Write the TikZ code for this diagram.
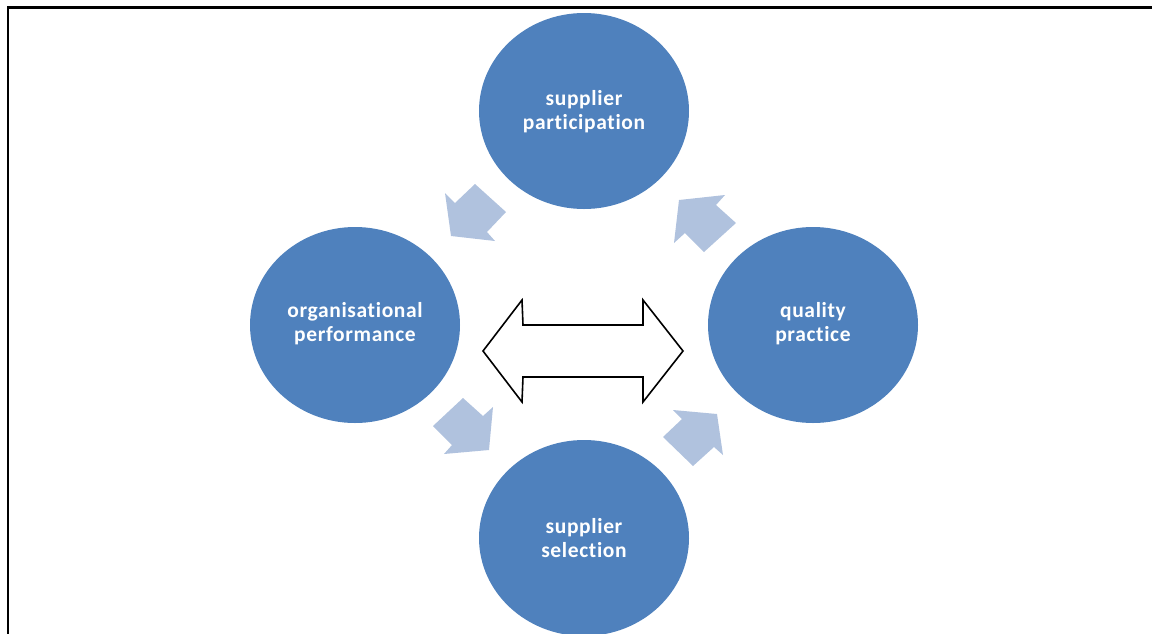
\documentclass[tikz,border=0pt]{standalone}
\usepackage{fontspec}
\setmainfont{Carlito}[Ligatures=NoCommon,LetterSpace=3]
\begin{document}
\begin{tikzpicture}[x=1pt,y=-1pt,
  bubble/.style={draw=none,fill=circblue},
  btext/.style={text=white,font=\bfseries\fontsize{21.5}{24}\selectfont,align=center,inner sep=0pt},
  lightarrow/.style={fill=arrowblue,draw=none},
  dblarrow/.style={draw=black,fill=white,line width=1.6pt,line join=miter}]
\definecolor{circblue}{RGB}{79,129,189}
\definecolor{arrowblue}{RGB}{176,194,222}
\useasboundingbox (0,0) rectangle (1152,633);
\begin{scope}
\clip (0,0) rectangle (1152,633);
% frame
\draw[line width=2.5pt] (8,7.5) rectangle (1170,660);
% light arrows
\fill[lightarrow] (451,236) -- (445,193) -- (455,203) -- (475,184) -- (506,212) -- (487,232) -- (495,241) -- cycle;
\fill[lightarrow] (679,200) -- (725,195) -- (716,205) -- (736,223) -- (704,252) -- (685,233) -- (674,243) -- cycle;
\fill[lightarrow] (489,450) -- (444,454) -- (452,445) -- (433,426) -- (463,398) -- (483,416) -- (493,407) -- cycle;
\fill[lightarrow] (717,414) -- (723,455) -- (714,447) -- (693,466) -- (663,437) -- (682,419) -- (673,410) -- cycle;
% circles
\fill[bubble] (584,111) ellipse [x radius=105, y radius=98];
\fill[bubble] (355,325) ellipse [x radius=105, y radius=98];
\fill[bubble] (813,325) ellipse [x radius=105, y radius=98];
\fill[bubble] (584,538) ellipse [x radius=105, y radius=98];
\node[btext] (sp) at (584,112) {supplier\\participation};
\node[btext] (op) at (355,324) {organisational\\performance};
\node[btext] (qp) at (813,324) {quality\\practice};
\node[btext] (ss) at (584,538) {supplier\\selection};
% double arrow
\draw[dblarrow] (483,351) -- (522,300) -- (523,325) -- (643,325) -- (643,300) -- (683,351) -- (643,402) -- (643,377) -- (523,377) -- (522,402) -- cycle;
\end{scope}
\end{tikzpicture}
\end{document}
